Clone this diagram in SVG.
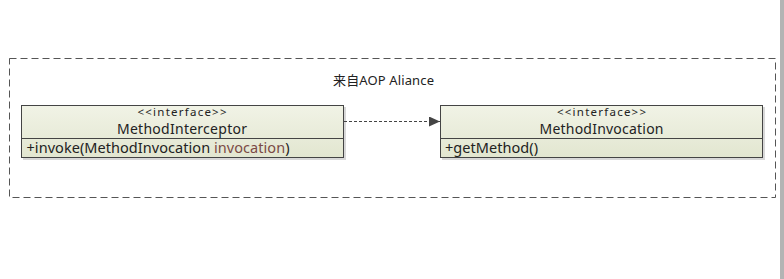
<svg xmlns="http://www.w3.org/2000/svg" width="784" height="279" viewBox="0 0 784 279">
  <defs>
    <linearGradient id="classFill" x1="0" y1="0" x2="0" y2="1">
      <stop offset="0" stop-color="#f1f3e6"/>
      <stop offset="1" stop-color="#e2e6d0"/>
    </linearGradient>
    <marker id="arrowHead" markerWidth="12" markerHeight="10" refX="11" refY="5" orient="auto" markerUnits="userSpaceOnUse">
      <path d="M0,0 L11,5 L0,10 Z" fill="#444"/>
    </marker>
  </defs>
  <style>
    text { font-family: "Noto Sans", "Open Sans", "Noto Sans CJK SC", sans-serif; fill: #222; }
    .frame { fill: none; stroke: #555; stroke-width: 1; stroke-dasharray: 7 4; }
    .box { fill: url(#classFill); stroke: #444; stroke-width: 1; }
    .shadow { fill: #d8d8d8; }
    .sep { stroke: #444; stroke-width: 1; }
    .stereo { font-size: 11.5px; text-anchor: middle; }
    .name { font-size: 14px; text-anchor: middle; }
    .member { font-size: 14.5px; }
    .param { fill: #7b4a45; }
    .title { font-size: 13px; }
    .dep { fill: none; stroke: #444; stroke-width: 1; stroke-dasharray: 3 2; }
  </style>

  <rect x="0" y="0" width="784" height="279" fill="#ffffff"/>
  <!-- scrollbar edge on the right -->
  <rect x="780" y="0" width="4" height="279" fill="#b4b4b4"/>

  <!-- package frame -->
  <g id="package">
    <rect class="frame" x="9.5" y="58.5" width="766" height="139"/>
    <text class="title" x="333" y="85" textLength="101">来自AOP Aliance</text>
  </g>

  <!-- interface MethodInterceptor -->
  <g id="MethodInterceptor">
    <rect class="shadow" x="23" y="107" width="323" height="53"/>
    <rect class="box" x="21.5" y="105.5" width="322" height="52"/>
    <line class="sep" x1="21.5" y1="138.5" x2="343.5" y2="138.5"/>
    <text class="stereo" x="182" y="115.5" textLength="89">&lt;&lt;interface&gt;&gt;</text>
    <text class="name" x="182" y="134" textLength="130">MethodInterceptor</text>
    <text class="member" x="26.5" y="152.5" textLength="263">+invoke(MethodInvocation <tspan class="param">invocation</tspan>)</text>
  </g>

  <!-- interface MethodInvocation -->
  <g id="MethodInvocation">
    <rect class="shadow" x="442" y="107" width="323" height="53"/>
    <rect class="box" x="440.5" y="105.5" width="322" height="52"/>
    <line class="sep" x1="440.5" y1="138.5" x2="762.5" y2="138.5"/>
    <text class="stereo" x="601.5" y="115.5" textLength="89">&lt;&lt;interface&gt;&gt;</text>
    <text class="name" x="601.5" y="134" textLength="124">MethodInvocation</text>
    <text class="member" x="445" y="152.5" textLength="93">+getMethod()</text>
  </g>

  <!-- dependency -->
  <g id="connectors">
    <line class="dep" x1="344" y1="121.5" x2="440" y2="121.5" marker-end="url(#arrowHead)"/>
  </g>
</svg>
